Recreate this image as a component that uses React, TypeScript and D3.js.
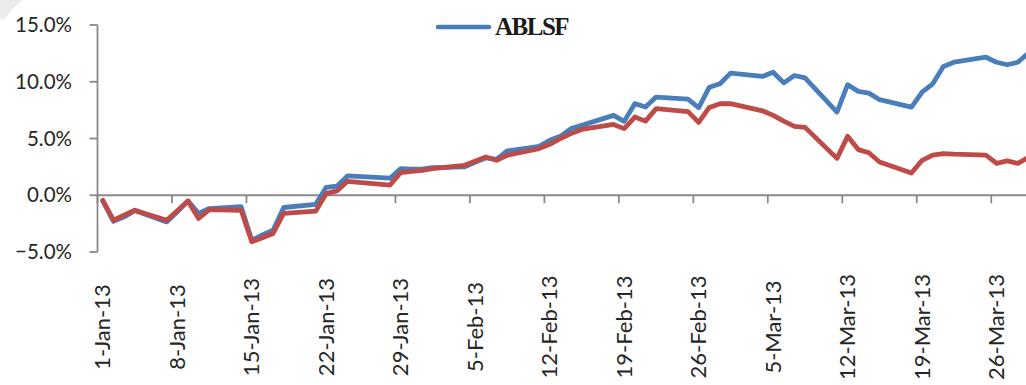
import React from "react";
import * as d3 from "d3";

const DATES: string[] = [
  "2013-01-01","2013-01-02","2013-01-03","2013-01-04","2013-01-07","2013-01-08","2013-01-09","2013-01-10","2013-01-11",
  "2013-01-14","2013-01-15","2013-01-16","2013-01-17","2013-01-18","2013-01-21","2013-01-22","2013-01-23","2013-01-24",
  "2013-01-28","2013-01-29","2013-01-30","2013-01-31","2013-02-01","2013-02-04","2013-02-06","2013-02-07","2013-02-08",
  "2013-02-11","2013-02-12","2013-02-13","2013-02-14","2013-02-15","2013-02-18","2013-02-19","2013-02-20","2013-02-21",
  "2013-02-22","2013-02-25","2013-02-26","2013-02-27","2013-02-28","2013-03-01","2013-03-04","2013-03-05","2013-03-06",
  "2013-03-07","2013-03-08","2013-03-11","2013-03-12","2013-03-13","2013-03-14","2013-03-15","2013-03-18","2013-03-19",
  "2013-03-20","2013-03-21","2013-03-22","2013-03-25","2013-03-26","2013-03-27","2013-03-28","2013-03-29",
];

const ABLSF: number[] = [
  -0.5, -2.3, -1.9, -1.35, -2.35, -1.45, -0.5, -1.6, -1.17,
  -1.0, -3.96, -3.5, -3.08, -1.08, -0.8, 0.7, 0.8, 1.7,
  1.5, 2.35, 2.3, 2.3, 2.44, 2.5, 3.3, 3.17, 3.9,
  4.3, 4.84, 5.19, 5.87, 6.16, 7.04, 6.51, 8.07, 7.77,
  8.65, 8.47, 7.71, 9.52, 9.82, 10.76, 10.47, 10.84, 9.9,
  10.55, 10.35, 7.33, 9.74, 9.15, 9.0, 8.42, 7.77, 9.09,
  9.82, 11.35, 11.72, 12.16, 11.72, 11.5, 11.72, 12.53,
];

const BENCHMARK: number[] = [
  -0.45, -2.2, -1.75, -1.32, -2.2, -1.36, -0.5, -2.05, -1.26,
  -1.32, -4.1, -3.75, -3.37, -1.6, -1.4, 0.15, 0.38, 1.23,
  0.9, 2.0, 2.1, 2.2, 2.35, 2.64, 3.37, 3.08, 3.52,
  4.11, 4.49, 4.99, 5.43, 5.8, 6.24, 5.87, 6.89, 6.53,
  7.63, 7.37, 6.42, 7.74, 8.06, 8.07, 7.44, 7.04, 6.53,
  6.07, 5.98, 3.25, 5.19, 4.02, 3.74, 2.93, 1.96, 3.08,
  3.54, 3.67, 3.62, 3.54, 2.81, 3.03, 2.81, 3.34,
];

const TICK_DATES: string[] = [
  "2013-01-01","2013-01-08","2013-01-15","2013-01-22","2013-01-29","2013-02-05","2013-02-12",
  "2013-02-19","2013-02-26","2013-03-05","2013-03-12","2013-03-19","2013-03-26",
];
const Y_TICKS: number[] = [-5, 0, 5, 10, 15];

const W = 1026;
const H = 385;
const DAY = 86400000;

const parse = (s: string) => new Date(s + "T00:00:00Z").getTime();

export default function App() {
  const t0 = parse("2013-01-01");
  const x = d3
    .scaleLinear()
    .domain([t0 - 0.5 * DAY, t0 + 90.5 * DAY])
    .range([97.5, 97.5 + 91 * 10.64]);
  const y = d3.scaleLinear().domain([-5, 15]).range([252, 25]);

  const pts = (vals: number[]) => DATES.map((d, i) => [parse(d), vals[i]] as [number, number]);
  const line = d3
    .line<[number, number]>()
    .x((d) => x(d[0]))
    .y((d) => y(d[1]));

  const fmtDate = (s: string) => {
    const dt = new Date(s + "T00:00:00Z");
    return `${dt.getUTCDate()}-${d3.utcFormat("%b")(dt)}-${d3.utcFormat("%y")(dt)}`;
  };

  const axisColor = "#8a8a8a";
  const font = "Lato, 'Open Sans', sans-serif";
  const x0 = x(t0 - 0.5 * DAY);

  return (
    <svg
      width={W}
      height={H}
      style={{ position: "fixed", left: 0, top: 0, background: "#fff" }}
    >
      <defs>
        <clipPath id="clip">
          <rect x={0} y={0} width={W} height={H} />
        </clipPath>
      </defs>
      <rect x={0} y={0} width={W} height={H} fill="#fff" />
      <path d="M0,0 L23,0 Q12,8 5,19 L0,19 Z" fill="#ececec" />

      {/* Y axis */}
      <line x1={x0} x2={x0} y1={y(15)} y2={y(-5)} stroke={axisColor} strokeWidth={1.8} />
      {Y_TICKS.map((t) => (
        <g key={t}>
          <line x1={x0 - 8} x2={x0} y1={y(t)} y2={y(t)} stroke={axisColor} strokeWidth={1.8} />
          <text
            x={72}
            y={y(t) + 7}
            textAnchor="end"
            fontFamily={font}
            fontSize={20.5}
            fill="#262626"
          >
            {d3.format(".1f")(t) + "%"}
          </text>
        </g>
      ))}

      {/* X axis */}
      <line x1={x0} x2={W} y1={y(0)} y2={y(0)} stroke={axisColor} strokeWidth={1.8} />
      {TICK_DATES.map((s) => {
        const cx = x(parse(s));
        const tx = x(parse(s) - 0.5 * DAY);
        return (
          <g key={s}>
            <line x1={tx} x2={tx} y1={y(0)} y2={y(0) + 8} stroke={axisColor} strokeWidth={1.8} />
            <text
              transform={`translate(${cx + 7.5},${327}) rotate(-90)`}
              textAnchor="middle"
              fontFamily={font}
              fontSize={22}
              fill="#262626"
            >
              {fmtDate(s)}
            </text>
          </g>
        );
      })}

      <g clipPath="url(#clip)">
        <path
          d={line(pts(ABLSF)) || ""}
          fill="none"
          stroke="#4a7ebb"
          strokeWidth={4.8}
          strokeLinejoin="round"
          strokeLinecap="round"
        />
        <path
          d={line(pts(BENCHMARK)) || ""}
          fill="none"
          stroke="#be4b48"
          strokeWidth={4.8}
          strokeLinejoin="round"
          strokeLinecap="round"
        />
      </g>

      {/* Legend */}
      <line x1={438} x2={489} y1={27} y2={27} stroke="#4a7ebb" strokeWidth={4.6} strokeLinecap="round" />
      <text
        x={495}
        y={34.5}
        fontFamily="'Liberation Serif', 'Times New Roman', serif"
        fontWeight="bold"
        fontSize={25}
        letterSpacing={-1.5}
        fill="#1a1a1a"
      >
        ABLSF
      </text>
    </svg>
  );
}
